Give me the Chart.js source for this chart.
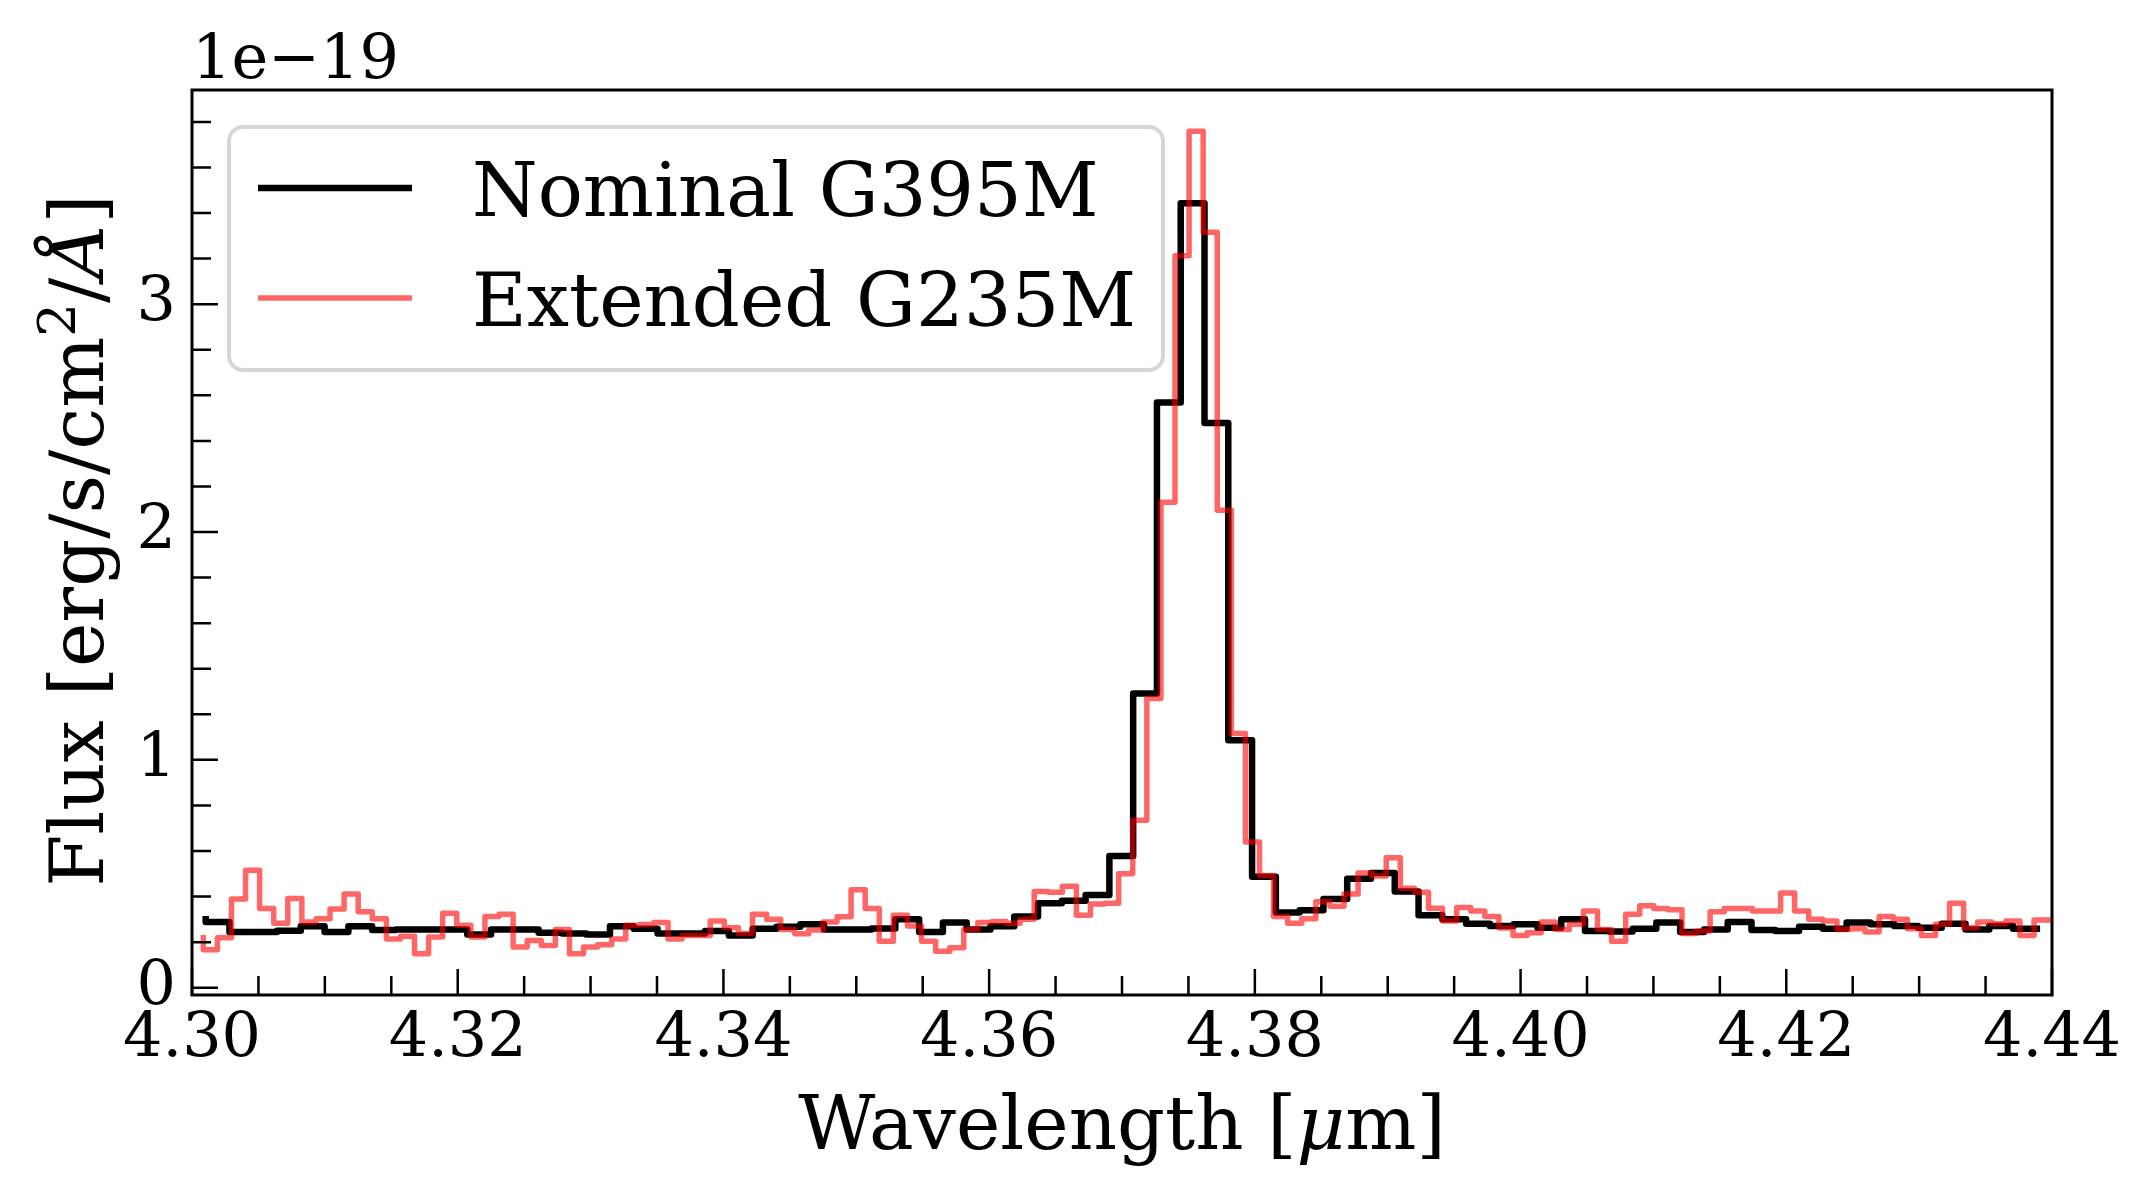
<!DOCTYPE html>
<html>
<head>
<meta charset="utf-8">
<title>Nominal G395M vs Extended G235M</title>
<script src="https://cdn.jsdelivr.net/npm/chart.js"></script>
<style>
  html, body { margin: 0; padding: 0; background: #fff; }
  canvas { display: block; }
</style>
</head>
<body>
<canvas id="spectrum" width="2151" height="1196"></canvas>
<script>
// wavelength of each pixel [um], G395M (nominal)
const nominalWave = [
  4.30103, 4.30282, 4.30461, 4.30640, 4.30819, 4.30998, 4.31177, 4.31356, 4.31535, 4.31714,
  4.31893, 4.32072, 4.32251, 4.32430, 4.32609, 4.32788, 4.32967, 4.33146, 4.33325, 4.33504,
  4.33683, 4.33862, 4.34041, 4.34220, 4.34399, 4.34578, 4.34757, 4.34936, 4.35115, 4.35294,
  4.35473, 4.35652, 4.35831, 4.36010, 4.36189, 4.36368, 4.36547, 4.36726, 4.36905, 4.37084,
  4.37263, 4.37442, 4.37621, 4.37800, 4.37979, 4.38158, 4.38337, 4.38516, 4.38695, 4.38874,
  4.39053, 4.39232, 4.39411, 4.39590, 4.39769, 4.39948, 4.40127, 4.40306, 4.40485, 4.40664,
  4.40843, 4.41022, 4.41201, 4.41380, 4.41559, 4.41738, 4.41917, 4.42096, 4.42275, 4.42454,
  4.42633, 4.42812, 4.42991, 4.43170, 4.43349, 4.43528, 4.43707, 4.43886
];
// flux in units of 1e-19 erg/s/cm2/A
const nominalFlux = [
  0.300, 0.288, 0.244, 0.244, 0.250, 0.270, 0.244, 0.270, 0.253, 0.256,
  0.256, 0.256, 0.234, 0.256, 0.256, 0.241, 0.238, 0.234, 0.270, 0.259,
  0.238, 0.238, 0.249, 0.229, 0.259, 0.268, 0.278, 0.256, 0.256, 0.260,
  0.300, 0.244, 0.286, 0.256, 0.270, 0.312, 0.371, 0.382, 0.407, 0.578,
  1.291, 2.569, 3.443, 2.478, 1.086, 0.487, 0.330, 0.340, 0.389, 0.478,
  0.503, 0.422, 0.318, 0.300, 0.281, 0.271, 0.278, 0.263, 0.300, 0.249,
  0.247, 0.259, 0.286, 0.244, 0.256, 0.288, 0.253, 0.249, 0.268, 0.259,
  0.286, 0.278, 0.271, 0.263, 0.281, 0.256, 0.271, 0.259
];

// G235M (extended), finer sampling
const extendedWave = [
  4.30085, 4.30191, 4.30297, 4.30403, 4.30509, 4.30615, 4.30721, 4.30827, 4.30933, 4.31039,
  4.31145, 4.31251, 4.31357, 4.31463, 4.31569, 4.31675, 4.31781, 4.31887, 4.31993, 4.32099,
  4.32205, 4.32311, 4.32417, 4.32523, 4.32629, 4.32735, 4.32841, 4.32947, 4.33053, 4.33159,
  4.33265, 4.33371, 4.33477, 4.33583, 4.33689, 4.33795, 4.33901, 4.34007, 4.34113, 4.34219,
  4.34325, 4.34431, 4.34537, 4.34643, 4.34749, 4.34855, 4.34961, 4.35067, 4.35173, 4.35279,
  4.35385, 4.35491, 4.35597, 4.35703, 4.35809, 4.35915, 4.36021, 4.36127, 4.36233, 4.36339,
  4.36445, 4.36551, 4.36657, 4.36763, 4.36869, 4.36975, 4.37081, 4.37187, 4.37293, 4.37399,
  4.37505, 4.37611, 4.37717, 4.37823, 4.37929, 4.38035, 4.38141, 4.38247, 4.38353, 4.38459,
  4.38565, 4.38671, 4.38777, 4.38883, 4.38989, 4.39095, 4.39201, 4.39307, 4.39413, 4.39519,
  4.39625, 4.39731, 4.39837, 4.39943, 4.40049, 4.40155, 4.40261, 4.40367, 4.40473, 4.40579,
  4.40685, 4.40791, 4.40897, 4.41003, 4.41109, 4.41215, 4.41321, 4.41427, 4.41533, 4.41639,
  4.41745, 4.41851, 4.41957, 4.42063, 4.42169, 4.42275, 4.42381, 4.42487, 4.42593, 4.42699,
  4.42805, 4.42911, 4.43017, 4.43123, 4.43229, 4.43335, 4.43441, 4.43547, 4.43653, 4.43759,
  4.43865, 4.43971, 4.44077
];
const extendedFlux = [
  0.219, 0.167, 0.219, 0.389, 0.515, 0.348, 0.283, 0.392, 0.288, 0.303,
  0.345, 0.411, 0.333, 0.303, 0.214, 0.226, 0.149, 0.223, 0.327, 0.274,
  0.223, 0.312, 0.322, 0.179, 0.207, 0.185, 0.256, 0.149, 0.179, 0.189,
  0.214, 0.274, 0.277, 0.286, 0.214, 0.229, 0.229, 0.293, 0.263, 0.238,
  0.322, 0.300, 0.256, 0.237, 0.253, 0.288, 0.311, 0.430, 0.348, 0.204,
  0.318, 0.271, 0.204, 0.160, 0.175, 0.256, 0.286, 0.291, 0.283, 0.300,
  0.422, 0.419, 0.445, 0.318, 0.367, 0.371, 0.500, 0.735, 1.269, 2.131,
  3.213, 3.759, 3.316, 2.095, 1.116, 0.640, 0.493, 0.312, 0.283, 0.303,
  0.377, 0.357, 0.411, 0.504, 0.490, 0.570, 0.436, 0.419, 0.349, 0.293,
  0.352, 0.337, 0.312, 0.262, 0.229, 0.241, 0.288, 0.256, 0.278, 0.337,
  0.256, 0.204, 0.322, 0.360, 0.348, 0.342, 0.238, 0.249, 0.333, 0.348,
  0.348, 0.337, 0.337, 0.416, 0.337, 0.300, 0.293, 0.256, 0.259, 0.244,
  0.312, 0.300, 0.259, 0.229, 0.278, 0.371, 0.263, 0.288, 0.281, 0.293,
  0.229, 0.297, 0.297
];

const seriesLabels = ['Nominal G395M', 'Extended G235M'];
const xTicks = [4.30, 4.32, 4.34, 4.36, 4.38, 4.40, 4.42, 4.44];
const xTickLabels = ['4.30', '4.32', '4.34', '4.36', '4.38', '4.40', '4.42', '4.44'];
const yTicks = [0, 1, 2, 3];
const yTickLabels = ['0', '1', '2', '3'];

const SERIF = '"DejaVu Serif", "Liberation Serif", serif';
const TICK_PX = 62;
const LABEL_PX = 75;

function font(px, style) {
  return (style ? style + ' ' : '') + px + 'px ' + SERIF;
}

// draw a list of text pieces with different fonts one after another
function runsWidth(ctx, runs) {
  let w = 0;
  runs.forEach(r => { ctx.font = r.font; w += ctx.measureText(r.text).width; });
  return w;
}
function drawRuns(ctx, runs, x, y) {
  runs.forEach(r => {
    ctx.font = r.font;
    ctx.fillText(r.text, x, y + (r.dy || 0));
    x += ctx.measureText(r.text).width;
  });
}

function roundRect(ctx, x, y, w, h, r) {
  ctx.beginPath();
  ctx.moveTo(x + r, y);
  ctx.lineTo(x + w - r, y);
  ctx.arcTo(x + w, y, x + w, y + r, r);
  ctx.lineTo(x + w, y + h - r);
  ctx.arcTo(x + w, y + h, x + w - r, y + h, r);
  ctx.lineTo(x + r, y + h);
  ctx.arcTo(x, y + h, x, y + h - r, r);
  ctx.lineTo(x, y + r);
  ctx.arcTo(x, y, x + r, y, r);
  ctx.closePath();
}

// frame, inward ticks, offset text, axis titles and legend (matplotlib look)
const axesDecor = {
  id: 'axesDecor',
  afterDraw(chart) {
    const ctx = chart.ctx;
    const a = chart.chartArea;
    const xs = chart.scales.x;
    const ys = chart.scales.y;
    ctx.save();

    // ticks pointing inwards, minor every 0.005 um and 0.2
    ctx.strokeStyle = '#000';
    ctx.lineWidth = 2.5;
    ctx.beginPath();
    for (let k = 0; k <= 28; k++) {
      const px = xs.getPixelForValue(xTicks[0] + k * 0.005);
      const len = k % 4 === 0 ? 26 : 19;
      ctx.moveTo(px, a.bottom);
      ctx.lineTo(px, a.bottom - len);
    }
    for (let k = 0; k <= 19; k++) {
      const py = ys.getPixelForValue(k * 0.2);
      const len = k % 5 === 0 ? 26 : 19;
      ctx.moveTo(a.left, py);
      ctx.lineTo(a.left + len, py);
    }
    ctx.stroke();

    ctx.lineWidth = 3;
    ctx.strokeRect(a.left, a.top, a.right - a.left, a.bottom - a.top);

    ctx.fillStyle = '#000';
    ctx.textBaseline = 'alphabetic';
    ctx.textAlign = 'left';

    // scale factor above the y axis
    ctx.font = font(TICK_PX);
    ctx.fillText('1e\u221219', a.left, 78);

    // x title
    const xRuns = [
      { text: 'Wavelength [', font: font(LABEL_PX) },
      { text: '\u03bc', font: font(LABEL_PX, 'italic') },
      { text: 'm]', font: font(LABEL_PX) }
    ];
    const xw = runsWidth(ctx, xRuns);
    drawRuns(ctx, xRuns, (a.left + a.right) / 2 - xw / 2, 1149);

    // y title, rotated
    const yRuns = [
      { text: 'Flux [erg/s/cm', font: font(LABEL_PX) },
      { text: '2', font: font(Math.round(LABEL_PX * 0.7)), dy: -28 },
      { text: '/', font: font(LABEL_PX) },
      { text: '\u00c5', font: font(LABEL_PX, 'italic') },
      { text: ']', font: font(LABEL_PX) }
    ];
    const yw = runsWidth(ctx, yRuns);
    ctx.save();
    ctx.translate(103, (a.top + a.bottom) / 2 - 2);
    ctx.rotate(-Math.PI / 2);
    drawRuns(ctx, yRuns, -yw / 2, 0);
    ctx.restore();

    // legend
    roundRect(ctx, 229, 127, 934, 243, 14);
    ctx.fillStyle = 'rgba(255,255,255,0.8)';
    ctx.fill();
    ctx.lineWidth = 4;
    ctx.strokeStyle = 'rgba(204,204,204,0.8)';
    ctx.stroke();

    const rowY = [188, 298];
    chart.data.datasets.forEach((ds, i) => {
      ctx.beginPath();
      ctx.strokeStyle = ds.borderColor;
      ctx.lineWidth = ds.borderWidth;
      ctx.moveTo(258, rowY[i]);
      ctx.lineTo(412, rowY[i]);
      ctx.stroke();
      ctx.fillStyle = '#000';
      ctx.font = font(LABEL_PX);
      ctx.fillText(ds.label, 472, rowY[i] + 28);
    });

    ctx.restore();
  }
};

const toPoints = (xs, ys) => xs.map((x, i) => ({ x: x, y: ys[i] }));

new Chart(document.getElementById('spectrum'), {
  type: 'line',
  data: {
    datasets: [
      {
        label: seriesLabels[0],
        data: toPoints(nominalWave, nominalFlux),
        borderColor: '#000000',
        borderWidth: 6.5,
        stepped: 'after',
        pointRadius: 0,
        borderJoinStyle: 'round',
        borderCapStyle: 'square',
        clip: 0,
        order: 1
      },
      {
        label: seriesLabels[1],
        data: toPoints(extendedWave, extendedFlux),
        borderColor: 'rgba(255,0,0,0.6)',
        borderWidth: 5.5,
        stepped: 'after',
        pointRadius: 0,
        borderJoinStyle: 'round',
        borderCapStyle: 'square',
        clip: 0,
        order: 0
      }
    ]
  },
  options: {
    responsive: false,
    animation: false,
    devicePixelRatio: 1,
    layout: { padding: { left: 0, right: 99, top: 90, bottom: 0 } },
    plugins: {
      legend: { display: false },
      tooltip: { enabled: false }
    },
    scales: {
      x: {
        type: 'linear',
        min: 4.30,
        max: 4.44,
        grid: { display: false, drawTicks: false },
        border: { display: false },
        afterBuildTicks: s => { s.ticks = xTicks.map(v => ({ value: v })); },
        afterFit: s => { s.height = 201; s.paddingLeft = 0; s.paddingRight = 0; },
        ticks: {
          autoSkip: false,
          maxRotation: 0,
          padding: 8,
          color: '#000',
          font: { family: SERIF, size: TICK_PX },
          callback: (v, i) => xTickLabels[i]
        }
      },
      y: {
        type: 'linear',
        min: -0.032,
        max: 3.94,
        grid: { display: false, drawTicks: false },
        border: { display: false },
        afterBuildTicks: s => { s.ticks = yTicks.map(v => ({ value: v })); },
        afterFit: s => { s.width = 192; s.paddingTop = 0; s.paddingBottom = 0; },
        ticks: {
          autoSkip: false,
          padding: 16,
          color: '#000',
          font: { family: SERIF, size: TICK_PX },
          callback: (v, i) => yTickLabels[i]
        }
      }
    }
  },
  plugins: [axesDecor]
});
</script>
</body>
</html>
